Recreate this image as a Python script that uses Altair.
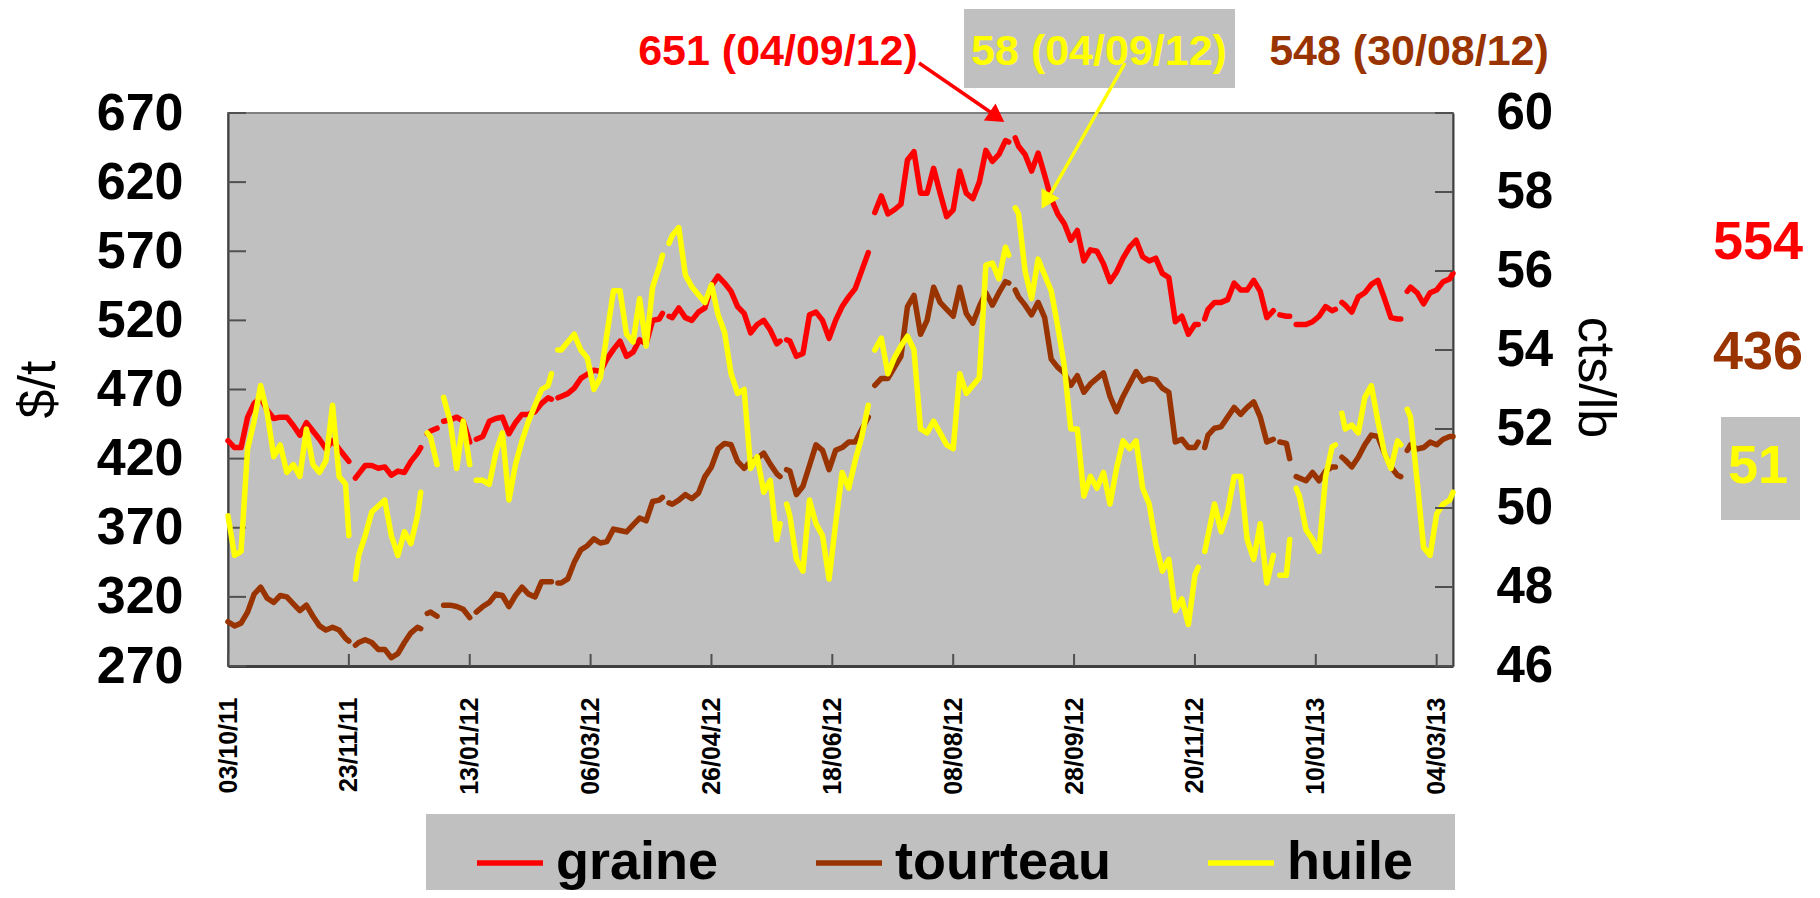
import altair as alt
import pandas as pd

# ---------------- data ----------------
TICK_LABELS = ["03/10/11", "23/11/11", "13/01/12", "06/03/12", "26/04/12", "18/06/12",
               "08/08/12", "28/09/12", "20/11/12", "10/01/13", "04/03/13"]
TICK_STEP = 37          # trading days between two date labels
LAST_DAY = 375          # last trading-day index shown
GAPS = [38, 60, 65, 75, 100, 134, 170, 197, 240, 298, 321, 326, 340, 360]  # missing quotes

SERIES = ["graine", "tourteau", "huile"]
COLORS = ["#FF0000", "#993300", "#FFFF00"]

LEFT_TICKS = [270, 320, 370, 420, 470, 520, 570, 620, 670]
RIGHT_TICKS = [46, 48, 50, 52, 54, 56, 58, 60]

# (trading-day index, $/t)
GRAINE = [
    (0, 433), (2, 428), (4, 428), (6, 450), (8, 460), (10, 464), (12, 455), (14, 449), (16, 450), (18, 450),
    (20, 444), (22, 437), (24, 446), (26, 440), (28, 434), (30, 427), (32, 433), (34, 427), (36, 421), (37, 418),
    (39, 406), (40, 409), (42, 415), (44, 415), (46, 413), (48, 414), (50, 408), (52, 411), (54, 410), (56, 418),
    (58, 424), (59, 428), (61, 438), (62, 440), (64, 442), (66, 447), (68, 448), (70, 450), (72, 447), (74, 432),
    (76, 434), (78, 436), (80, 447), (82, 449), (84, 450), (86, 438), (88, 446), (90, 452), (92, 452), (94, 454),
    (96, 460), (98, 464), (99, 463), (101, 464), (102, 465), (104, 467), (106, 471), (108, 478), (110, 481),
    (112, 484), (114, 483), (116, 492), (118, 499), (120, 505), (122, 494), (124, 497), (126, 506), (128, 503),
    (130, 520), (132, 521), (133, 525), (135, 523), (136, 522), (138, 529), (140, 522), (142, 520), (144, 526),
    (146, 529), (148, 545), (150, 552), (152, 547), (154, 541), (156, 530), (158, 525), (160, 511), (162, 517),
    (164, 520), (166, 513), (168, 503), (169, 505), (171, 506), (172, 505), (174, 494), (176, 496), (178, 524),
    (180, 526), (182, 520), (184, 507), (186, 520), (188, 530), (190, 537), (192, 543), (194, 556), (196, 569),
    (198, 598), (200, 610), (202, 597), (204, 600), (206, 604), (208, 636), (210, 642), (212, 612), (214, 612),
    (216, 630), (218, 612), (220, 595), (222, 600), (224, 628), (226, 612), (228, 608), (230, 620), (232, 643),
    (234, 635), (236, 640), (238, 650), (239, 649), (241, 652), (242, 646), (244, 640), (246, 628), (248, 641),
    (250, 625), (252, 608), (254, 597), (256, 590), (258, 578), (260, 585), (262, 563), (264, 571), (266, 570),
    (268, 561), (270, 548), (272, 555), (274, 565), (276, 573), (278, 578), (280, 566), (282, 563), (284, 565),
    (286, 554), (288, 551), (290, 519), (292, 523), (294, 510), (296, 517), (297, 517), (299, 521), (300, 528),
    (302, 533), (304, 533), (306, 535), (308, 547), (310, 542), (312, 542), (314, 549), (316, 541), (318, 522),
    (320, 527), (322, 524), (324, 523), (325, 523), (327, 517), (328, 517), (330, 517), (332, 519), (334, 523),
    (336, 530), (338, 527), (339, 528), (341, 533), (342, 531), (344, 526), (346, 537), (348, 540), (350, 546),
    (352, 549), (354, 536), (356, 522), (358, 521), (359, 521), (361, 541), (362, 544), (364, 540), (366, 532),
    (368, 540), (370, 542), (372, 548), (374, 550), (375, 554),
]

# (trading-day index, $/t)
TOURTEAU = [
    (0, 302), (2, 299), (4, 301), (6, 309), (8, 322), (10, 327), (12, 319), (14, 316), (16, 321), (18, 320),
    (20, 315), (22, 310), (24, 314), (26, 306), (28, 299), (30, 296), (32, 298), (34, 296), (36, 290), (37, 288),
    (39, 285), (40, 287), (42, 289), (44, 287), (46, 282), (48, 282), (50, 276), (52, 279), (54, 287), (56, 294),
    (58, 298), (59, 297), (61, 308), (62, 309), (64, 306), (66, 314), (68, 314), (70, 313), (72, 311), (74, 305),
    (76, 309), (78, 313), (80, 316), (82, 322), (84, 321), (86, 313), (88, 321), (90, 327), (92, 322), (94, 320),
    (96, 331), (98, 331), (99, 331), (101, 330), (102, 330), (104, 333), (106, 345), (108, 354), (110, 357),
    (112, 362), (114, 359), (116, 360), (118, 369), (120, 368), (122, 367), (124, 372), (126, 377), (128, 375),
    (130, 389), (132, 390), (133, 392), (135, 388), (136, 387), (138, 390), (140, 394), (142, 391), (144, 395),
    (146, 407), (148, 414), (150, 427), (152, 431), (154, 430), (156, 418), (158, 413), (160, 418), (162, 420),
    (164, 424), (166, 416), (168, 409), (169, 407), (171, 412), (172, 411), (174, 394), (176, 400), (178, 415),
    (180, 430), (182, 426), (184, 412), (186, 426), (188, 428), (190, 432), (192, 432), (194, 441), (196, 450),
    (198, 473), (200, 478), (202, 478), (204, 486), (206, 494), (208, 530), (210, 538), (212, 510), (214, 520),
    (216, 544), (218, 533), (220, 528), (222, 523), (224, 544), (226, 525), (228, 518), (230, 530), (232, 540),
    (234, 531), (236, 540), (238, 548), (239, 547), (241, 542), (242, 537), (244, 531), (246, 524), (248, 533),
    (250, 522), (252, 492), (254, 486), (256, 482), (258, 473), (260, 480), (262, 468), (264, 474), (266, 478),
    (268, 482), (270, 465), (272, 454), (274, 465), (276, 474), (278, 483), (280, 476), (282, 478), (284, 477),
    (286, 471), (288, 468), (290, 432), (292, 434), (294, 428), (296, 428), (297, 432), (299, 428), (300, 437),
    (302, 442), (304, 443), (306, 450), (308, 457), (310, 452), (312, 457), (314, 461), (316, 450), (318, 432),
    (320, 434), (322, 432), (324, 431), (325, 420), (327, 407), (328, 406), (330, 404), (332, 410), (334, 404),
    (336, 411), (338, 414), (339, 414), (341, 421), (342, 419), (344, 414), (346, 421), (348, 430), (350, 437),
    (352, 436), (354, 424), (356, 414), (358, 408), (359, 407), (361, 426), (362, 430), (364, 427), (366, 428),
    (368, 432), (370, 430), (372, 434), (374, 436), (375, 436),
]

# (trading-day index, cts/lb)
HUILE = [
    (0, 49.8), (2, 48.8), (4, 48.9), (6, 51.5), (8, 52.2), (10, 53.1), (12, 52.4), (14, 51.3), (16, 51.6),
    (18, 50.9), (20, 51.1), (22, 50.8), (24, 52.0), (26, 51.1), (28, 50.9), (30, 51.2), (32, 52.6), (34, 50.8),
    (36, 50.6), (37, 49.3), (39, 48.2), (40, 48.8), (42, 49.3), (44, 49.9), (46, 50.05), (48, 50.2), (50, 49.3),
    (52, 48.8), (54, 49.4), (56, 49.1), (58, 49.8), (59, 50.4), (61, 51.9), (62, 51.8), (64, 51.1), (66, 52.8),
    (68, 52.2), (70, 51.0), (72, 52.2), (74, 51.1), (76, 50.7), (78, 50.7), (80, 50.6), (82, 51.4), (84, 51.9),
    (86, 50.2), (88, 51.1), (90, 51.7), (92, 52.2), (94, 52.6), (96, 53.0), (98, 53.1), (99, 53.4), (101, 54.0),
    (102, 54.0), (104, 54.2), (106, 54.4), (108, 54.0), (110, 53.8), (112, 53.0), (114, 53.3), (116, 54.4),
    (118, 55.5), (120, 55.5), (122, 54.4), (124, 54.2), (126, 55.3), (128, 54.1), (130, 55.6), (132, 56.1),
    (133, 56.4), (135, 56.7), (136, 56.9), (138, 57.1), (140, 55.9), (142, 55.6), (144, 55.4), (146, 55.2),
    (148, 55.65), (150, 54.9), (152, 54.45), (154, 53.4), (156, 52.9), (158, 53.0), (160, 51.0), (162, 51.3),
    (164, 50.4), (166, 50.7), (168, 49.2), (169, 49.6), (171, 50.1), (172, 49.8), (174, 48.7), (176, 48.4),
    (178, 50.2), (180, 49.6), (182, 49.3), (184, 48.2), (186, 49.6), (188, 50.9), (190, 50.5), (192, 51.2),
    (194, 51.8), (196, 52.6), (198, 54.0), (200, 54.3), (202, 53.4), (204, 53.8), (206, 54.1), (208, 54.35),
    (210, 54.0), (212, 52.0), (214, 51.9), (216, 52.2), (218, 51.9), (220, 51.6), (222, 51.5), (224, 53.4),
    (226, 52.9), (228, 53.1), (230, 53.3), (232, 56.15), (234, 56.2), (236, 55.8), (238, 56.6), (239, 56.4),
    (241, 57.6), (242, 57.45), (244, 56.0), (246, 55.3), (248, 56.3), (250, 55.9), (252, 55.5), (254, 54.6),
    (256, 53.6), (258, 52.0), (260, 52.0), (262, 50.3), (264, 50.8), (266, 50.5), (268, 50.9), (270, 50.1),
    (272, 51.0), (274, 51.7), (276, 51.5), (278, 51.7), (280, 50.5), (282, 50.1), (284, 49.1), (286, 48.4),
    (288, 48.7), (290, 47.4), (292, 47.7), (294, 47.05), (296, 48.3), (297, 48.5), (299, 48.9), (300, 49.3),
    (302, 50.1), (304, 49.4), (306, 49.9), (308, 50.8), (310, 50.8), (312, 49.2), (314, 48.7), (316, 49.6),
    (318, 48.1), (320, 48.8), (322, 48.3), (324, 48.3), (325, 49.2), (327, 50.5), (328, 50.3), (330, 49.45),
    (332, 49.2), (334, 48.9), (336, 50.8), (338, 51.55), (339, 51.6), (341, 52.4), (342, 52.0), (344, 52.1),
    (346, 51.9), (348, 52.8), (350, 53.1), (352, 52.2), (354, 51.4), (356, 51.0), (358, 51.7), (359, 51.6),
    (361, 52.5), (362, 52.3), (364, 50.7), (366, 49.0), (368, 48.8), (370, 49.85), (372, 50.1), (374, 50.2),
    (375, 50.4),
]

PEAK_GRAINE = ("651", "04/09/12")
PEAK_HUILE = ("58", "04/09/12")
PEAK_TOURTEAU = ("548", "30/08/12")
LAST_GRAINE = "554"
LAST_TOURTEAU = "436"
LAST_HUILE = "51"


def to_rows(name, pairs):
    rows, seg, prev = [], 0, None
    for i, v in pairs:
        if prev is not None and any(prev < g < i for g in GAPS):
            seg += 1
        rows.append({"idx": i, "val": v, "serie": name, "seg": f"{name}{seg}"})
        prev = i
    return rows


df_left = pd.DataFrame(to_rows("graine", GRAINE) + to_rows("tourteau", TOURTEAU))
df_right = pd.DataFrame(to_rows("huile", HUILE))

# ---------------- styling ----------------
W, H = 1225, 553
FONT = "Liberation Sans"
AXIS_DARK = "#404040"
TICK_COL = "#505050"
GREY = "#C0C0C0"
LW = 5.5

tick_idx = [k * TICK_STEP for k in range(len(TICK_LABELS))]
label_expr = "[" + ",".join("'" + t + "'" for t in TICK_LABELS) + "][round(datum.value/%d)]" % TICK_STEP

x_enc = alt.X(
    "idx:Q",
    scale=alt.Scale(domain=[0, LAST_DAY], nice=False, zero=False),
    axis=alt.Axis(values=tick_idx, labelExpr=label_expr, labelAngle=270, labelFontSize=25,
                  labelFontWeight="bold", labelPadding=31, labelFlush=False, labelOverlap=False,
                  ticks=False, domainColor=AXIS_DARK, domainWidth=3, grid=False, title=None),
)

y_left = alt.Y(
    "val:Q",
    scale=alt.Scale(domain=[LEFT_TICKS[0], LEFT_TICKS[-1]], nice=False, zero=False),
    axis=alt.Axis(values=LEFT_TICKS, labelFontSize=52, labelFontWeight="bold", labelPadding=45,
                  ticks=False, domainColor=AXIS_DARK, domainWidth=2, grid=False,
                  title="$/t", titleFontSize=52, titleFontWeight="normal", titleAngle=270,
                  titleX=-190, titleY=276, titleAlign="center", titleBaseline="middle"),
)

y_right = alt.Y(
    "val:Q",
    scale=alt.Scale(domain=[RIGHT_TICKS[0], RIGHT_TICKS[-1]], nice=False, zero=False),
    axis=alt.Axis(orient="right", values=RIGHT_TICKS, labelFontSize=51, labelFontWeight="bold",
                  labelPadding=43, ticks=False, domainColor=AXIS_DARK, domainWidth=2, grid=False,
                  title="cts/lb", titleFontSize=52, titleFontWeight="normal", titleAngle=90,
                  titleX=141, titleY=264, titleAlign="center", titleBaseline="middle"),
)

color_enc = alt.Color(
    "serie:N",
    scale=alt.Scale(domain=SERIES, range=COLORS),
    legend=alt.Legend(orient="none", legendX=246, legendY=714, direction="horizontal", title=None,
                      symbolType="stroke", symbolStrokeWidth=5.5, symbolSize=4356,
                      labelFontSize=54, labelFontWeight="bold", labelFont=FONT, labelColor="black",
                      labelLimit=400, labelOffset=10, columnPadding=86, padding=0),
)

# left-axis layer
lines_left = alt.Chart(df_left).mark_line(strokeWidth=LW, strokeJoin="round", strokeCap="round").encode(
    x=x_enc, y=y_left, color=color_enc, detail="seg:N")
ticks_left = alt.Chart(pd.DataFrame({"val": LEFT_TICKS})).mark_rule(
    color=TICK_COL, strokeWidth=2).encode(y=y_left, x=alt.value(0), x2=alt.value(18))
ticks_x = alt.Chart(pd.DataFrame({"idx": tick_idx})).mark_rule(
    color=TICK_COL, strokeWidth=2).encode(x=x_enc, y=alt.value(H - 12), y2=alt.value(H))
left_layer = alt.layer(lines_left, ticks_left, ticks_x)

# right-axis layer
lines_right = alt.Chart(df_right).mark_line(strokeWidth=LW, strokeJoin="round", strokeCap="round").encode(
    x=x_enc, y=y_right, color=color_enc, detail="seg:N")
ticks_right = alt.Chart(pd.DataFrame({"val": RIGHT_TICKS})).mark_rule(
    color=TICK_COL, strokeWidth=2).encode(y=y_right, x=alt.value(W - 18), x2=alt.value(W))
right_layer = alt.layer(lines_right, ticks_right)

# ---------------- annotations ----------------
one = pd.DataFrame({"k": [0]})


def box(x0, x1, y0, y1):
    return alt.Chart(one).mark_rect(color=GREY).encode(
        x=alt.value(x0), x2=alt.value(x1), y=alt.value(y0), y2=alt.value(y1))


def label(txt, color, x, y, size=43):
    return alt.Chart(one).mark_text(text=txt, color=color, font=FONT, fontSize=size, fontWeight="bold",
                                    align="center", baseline="middle").encode(
        x=alt.value(x), y=alt.value(y))


def arrow(x0, y0, x1, y1, cx, cy, ang, color):
    line = alt.Chart(one).mark_rule(color=color, strokeWidth=3.5).encode(
        x=alt.value(x0), y=alt.value(y0), x2=alt.value(x1), y2=alt.value(y1))
    head = alt.Chart(one).mark_point(shape="triangle-right", filled=True, color=color, size=420,
                                     angle=ang, opacity=1).encode(x=alt.value(cx), y=alt.value(cy))
    return [line, head]


annots = [
    box(198, 1227, 701, 783),                       # legend background
    box(736, 1007, -104, -25),                      # box behind huile peak
    box(1493, 1572, 304, 407),                      # box behind huile last value
    label(f"{PEAK_GRAINE[0]} ({PEAK_GRAINE[1]})", COLORS[0], 550, -61),
    label(f"{PEAK_HUILE[0]} ({PEAK_HUILE[1]})", COLORS[2], 871, -61),
    label(f"{PEAK_TOURTEAU[0]} ({PEAK_TOURTEAU[1]})", COLORS[1], 1181, -61),
    label(LAST_GRAINE, COLORS[0], 1530, 130, 54),
    label(LAST_TOURTEAU, COLORS[1], 1530, 240, 54),
    label(LAST_HUILE, COLORS[2], 1530, 354, 54),
]
annots += arrow(691, -50, 771, 5, 769, 4, 34.6, COLORS[0])
annots += arrow(897, -50, 818, 89, 818, 88, 119.7, COLORS[2])

chart = alt.layer(
    annots[0], left_layer, right_layer, *annots[1:]
).resolve_scale(
    y="independent"
).properties(
    width=W, height=H,
    autosize=alt.AutoSizeParams(type="none"),
    padding={"left": 220, "top": 105, "right": 359, "bottom": 224},
).configure_view(
    fill=GREY, stroke="#808080", strokeWidth=2
).configure_axis(
    labelFont=FONT, titleFont=FONT, labelColor="black", titleColor="black"
)

chart.save("out.html", embed_options={"renderer": "svg", "actions": False})
